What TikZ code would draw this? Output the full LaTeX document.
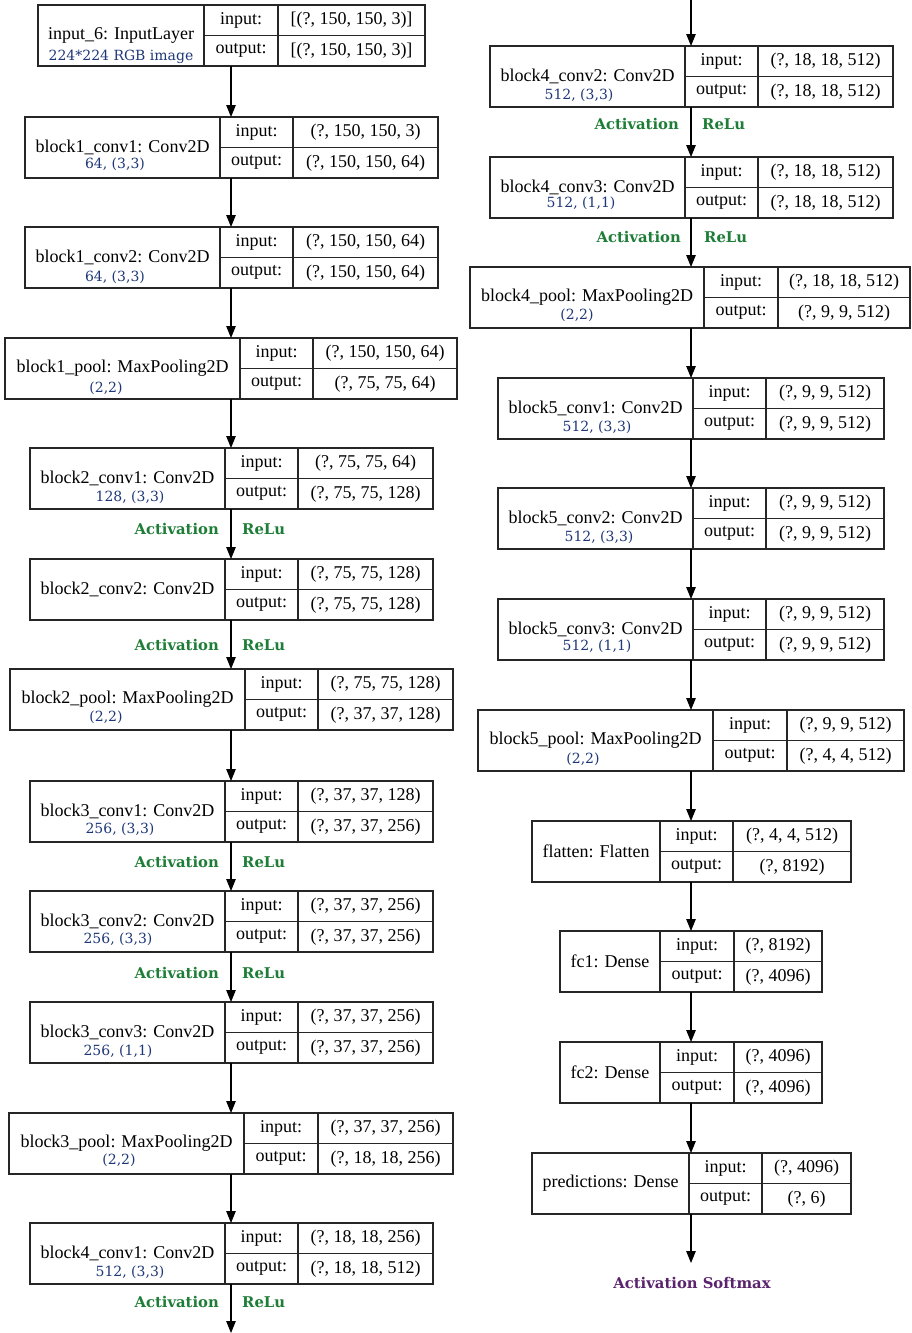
\documentclass[tikz,border=0pt]{standalone}
\usepackage{fontspec}
\setmainfont{Liberation Serif}
\newfontfamily\labfont{DejaVu Serif}
\usetikzlibrary{arrows.meta}
\definecolor{subblue}{RGB}{30,55,120}
\definecolor{actgreen}{RGB}{30,125,55}
\definecolor{actpurple}{RGB}{90,35,110}
\tikzset{
  cell/.style={draw=black!85, line width=1.1pt, inner sep=0pt, outer sep=0pt,
    font=\fontsize{18}{20}\selectfont, anchor=north west},
  sublab/.style={font=\labfont\fontsize{14}{16}\selectfont, text=subblue, inner sep=0pt},
  actlab/.style={font=\labfont\bfseries\fontsize{14.8}{17}\selectfont, text=actgreen, inner sep=0pt},
  actL/.style={actlab, anchor=east},
  actR/.style={actlab, anchor=west},
  flow/.style={-{Triangle[length=12pt,width=9.5pt]}, line width=1.1pt},
}
\newcommand\layerbox[9]{%
  \pgfmathsetmacro\LBwa{#3-#2}\pgfmathsetmacro\LBwb{#4-#3}\pgfmathsetmacro\LBwc{#5-#4}%
  \pgfmathsetmacro\LBym{#6+30.5}%
  \node[cell, minimum width=\LBwa pt, minimum height=61pt] (#1) at (#2,#6) {#7};
  \node[cell, minimum width=\LBwb pt, minimum height=30.5pt] (#1-il) at (#3,#6) {input:};
  \node[cell, minimum width=\LBwb pt, minimum height=30.5pt] (#1-ol) at (#3,\LBym) {output:};
  \node[cell, minimum width=\LBwc pt, minimum height=30.5pt] (#1-iv) at (#4,#6) {#8};
  \node[cell, minimum width=\LBwc pt, minimum height=30.5pt] (#1-ov) at (#4,\LBym) {#9};
}
\begin{document}
\begin{tikzpicture}[x=1pt,y=-1pt]
\fill[white] (0,0) rectangle (911,1333);
\useasboundingbox (0,0) rectangle (911,1333);
\coordinate (colL) at (231,0);
\coordinate (colR) at (691,0);
\coordinate (topR) at (691,0);
\coordinate (botL) at (231,1333);
\coordinate (smx) at (691,1263);

% left column
\layerbox{in6}{38}{204}{278}{425}{5}{input\_6: InputLayer}{[(?, 150, 150, 3)]}{[(?, 150, 150, 3)]}
\node[sublab] (in6-s) at (121,57) {224*224 RGB image};
\layerbox{b1c1}{25}{220}{293}{438}{117}{block1\_conv1: Conv2D}{(?, 150, 150, 3)}{(?, 150, 150, 64)}
\node[sublab] (b1c1-s) at (115,164) {64, (3,3)};
\layerbox{b1c2}{25}{220}{293}{438}{227}{block1\_conv2: Conv2D}{(?, 150, 150, 64)}{(?, 150, 150, 64)}
\node[sublab] (b1c2-s) at (115,277) {64, (3,3)};
\layerbox{b1p}{5}{240}{313}{457}{338}{block1\_pool: MaxPooling2D}{(?, 150, 150, 64)}{(?, 75, 75, 64)}
\node[sublab] (b1p-s) at (106,388) {(2,2)};
\layerbox{b2c1}{30}{225}{298}{433}{448}{block2\_conv1: Conv2D}{(?, 75, 75, 64)}{(?, 75, 75, 128)}
\node[sublab] (b2c1-s) at (130,497) {128, (3,3)};
\layerbox{b2c2}{30}{225}{298}{433}{559}{block2\_conv2: Conv2D}{(?, 75, 75, 128)}{(?, 75, 75, 128)}
\layerbox{b2p}{10}{245}{318}{453}{669}{block2\_pool: MaxPooling2D}{(?, 75, 75, 128)}{(?, 37, 37, 128)}
\node[sublab] (b2p-s) at (106,717) {(2,2)};
\layerbox{b3c1}{30}{225}{298}{433}{781}{block3\_conv1: Conv2D}{(?, 37, 37, 128)}{(?, 37, 37, 256)}
\node[sublab] (b3c1-s) at (120,829) {256, (3,3)};
\layerbox{b3c2}{30}{225}{298}{433}{891}{block3\_conv2: Conv2D}{(?, 37, 37, 256)}{(?, 37, 37, 256)}
\node[sublab] (b3c2-s) at (118,939) {256, (3,3)};
\layerbox{b3c3}{30}{225}{298}{433}{1002}{block3\_conv3: Conv2D}{(?, 37, 37, 256)}{(?, 37, 37, 256)}
\node[sublab] (b3c3-s) at (118,1051) {256, (1,1)};
\layerbox{b3p}{9}{244}{318}{453}{1113}{block3\_pool: MaxPooling2D}{(?, 37, 37, 256)}{(?, 18, 18, 256)}
\node[sublab] (b3p-s) at (119,1160) {(2,2)};
\layerbox{b4c1}{30}{225}{298}{433}{1223}{block4\_conv1: Conv2D}{(?, 18, 18, 256)}{(?, 18, 18, 512)}
\node[sublab] (b4c1-s) at (130,1272) {512, (3,3)};

% right column
\layerbox{b4c2}{490}{685}{758}{893}{46}{block4\_conv2: Conv2D}{(?, 18, 18, 512)}{(?, 18, 18, 512)}
\node[sublab] (b4c2-s) at (579,95) {512, (3,3)};
\layerbox{b4c3}{490}{685}{758}{893}{157}{block4\_conv3: Conv2D}{(?, 18, 18, 512)}{(?, 18, 18, 512)}
\node[sublab] (b4c3-s) at (581,203) {512, (1,1)};
\layerbox{b4p}{470}{704}{778}{910}{267}{block4\_pool: MaxPooling2D}{(?, 18, 18, 512)}{(?, 9, 9, 512)}
\node[sublab] (b4p-s) at (577,315) {(2,2)};
\layerbox{b5c1}{498}{693}{766}{884}{378}{block5\_conv1: Conv2D}{(?, 9, 9, 512)}{(?, 9, 9, 512)}
\node[sublab] (b5c1-s) at (597,427) {512, (3,3)};
\layerbox{b5c2}{498}{693}{766}{884}{488}{block5\_conv2: Conv2D}{(?, 9, 9, 512)}{(?, 9, 9, 512)}
\node[sublab] (b5c2-s) at (599,537) {512, (3,3)};
\layerbox{b5c3}{498}{693}{766}{884}{599}{block5\_conv3: Conv2D}{(?, 9, 9, 512)}{(?, 9, 9, 512)}
\node[sublab] (b5c3-s) at (597,646) {512, (1,1)};
\layerbox{b5p}{478}{713}{787}{904}{710}{block5\_pool: MaxPooling2D}{(?, 9, 9, 512)}{(?, 4, 4, 512)}
\node[sublab] (b5p-s) at (583,759) {(2,2)};
\layerbox{flat}{532}{660}{733}{851}{821}{flatten: Flatten}{(?, 4, 4, 512)}{(?, 8192)}
\layerbox{fc1}{560}{660}{734}{822}{931}{fc1: Dense}{(?, 8192)}{(?, 4096)}
\layerbox{fc2}{560}{660}{734}{822}{1042}{fc2: Dense}{(?, 4096)}{(?, 4096)}
\layerbox{pred}{532}{689}{762}{851}{1153}{predictions: Dense}{(?, 4096)}{(?, 6)}

% connectors left
\draw[flow] (in6.south -| colL) -- (b1c1.north -| colL);
\draw[flow] (b1c1.south -| colL) -- (b1c2.north -| colL);
\draw[flow] (b1c2.south -| colL) -- (b1p.north -| colL);
\draw[flow] (b1p.south -| colL) -- (b2c1.north -| colL);
\draw[flow] (b2c1.south -| colL) -- (b2c2.north -| colL);
\draw[flow] (b2c2.south -| colL) -- (b2p.north -| colL);
\draw[flow] (b2p.south -| colL) -- (b3c1.north -| colL);
\draw[flow] (b3c1.south -| colL) -- (b3c2.north -| colL);
\draw[flow] (b3c2.south -| colL) -- (b3c3.north -| colL);
\draw[flow] (b3c3.south -| colL) -- (b3p.north -| colL);
\draw[flow] (b3p.south -| colL) -- (b4c1.north -| colL);
\draw[flow] (b4c1.south -| colL) -- (botL);
% connectors right
\draw[flow] (topR) -- (b4c2.north -| colR);
\draw[flow] (b4c2.south -| colR) -- (b4c3.north -| colR);
\draw[flow] (b4c3.south -| colR) -- (b4p.north -| colR);
\draw[flow] (b4p.south -| colR) -- (b5c1.north -| colR);
\draw[flow] (b5c1.south -| colR) -- (b5c2.north -| colR);
\draw[flow] (b5c2.south -| colR) -- (b5c3.north -| colR);
\draw[flow] (b5c3.south -| colR) -- (b5p.north -| colR);
\draw[flow] (b5p.south -| colR) -- (flat.north -| colR);
\draw[flow] (flat.south -| colR) -- (fc1.north -| colR);
\draw[flow] (fc1.south -| colR) -- (fc2.north -| colR);
\draw[flow] (fc2.south -| colR) -- (pred.north -| colR);
\draw[flow] (pred.south -| colR) -- (smx);

% activation labels
\node[actL] (a1l) at (219,529) {Activation}; \node[actR] (a1r) at (242,529) {ReLu};
\node[actL] (a2l) at (219,645) {Activation}; \node[actR] (a2r) at (242,645) {ReLu};
\node[actL] (a3l) at (219,862) {Activation}; \node[actR] (a3r) at (242,862) {ReLu};
\node[actL] (a4l) at (219,973) {Activation}; \node[actR] (a4r) at (242,973) {ReLu};
\node[actL] (a5l) at (219,1302) {Activation}; \node[actR] (a5r) at (242,1302) {ReLu};
\node[actL] (a6l) at (679,124) {Activation}; \node[actR] (a6r) at (702,124) {ReLu};
\node[actL] (a7l) at (681,237) {Activation}; \node[actR] (a7r) at (704,237) {ReLu};
\node[actlab, text=actpurple] (soft) at (692,1283) {Activation Softmax};
\end{tikzpicture}
\end{document}
